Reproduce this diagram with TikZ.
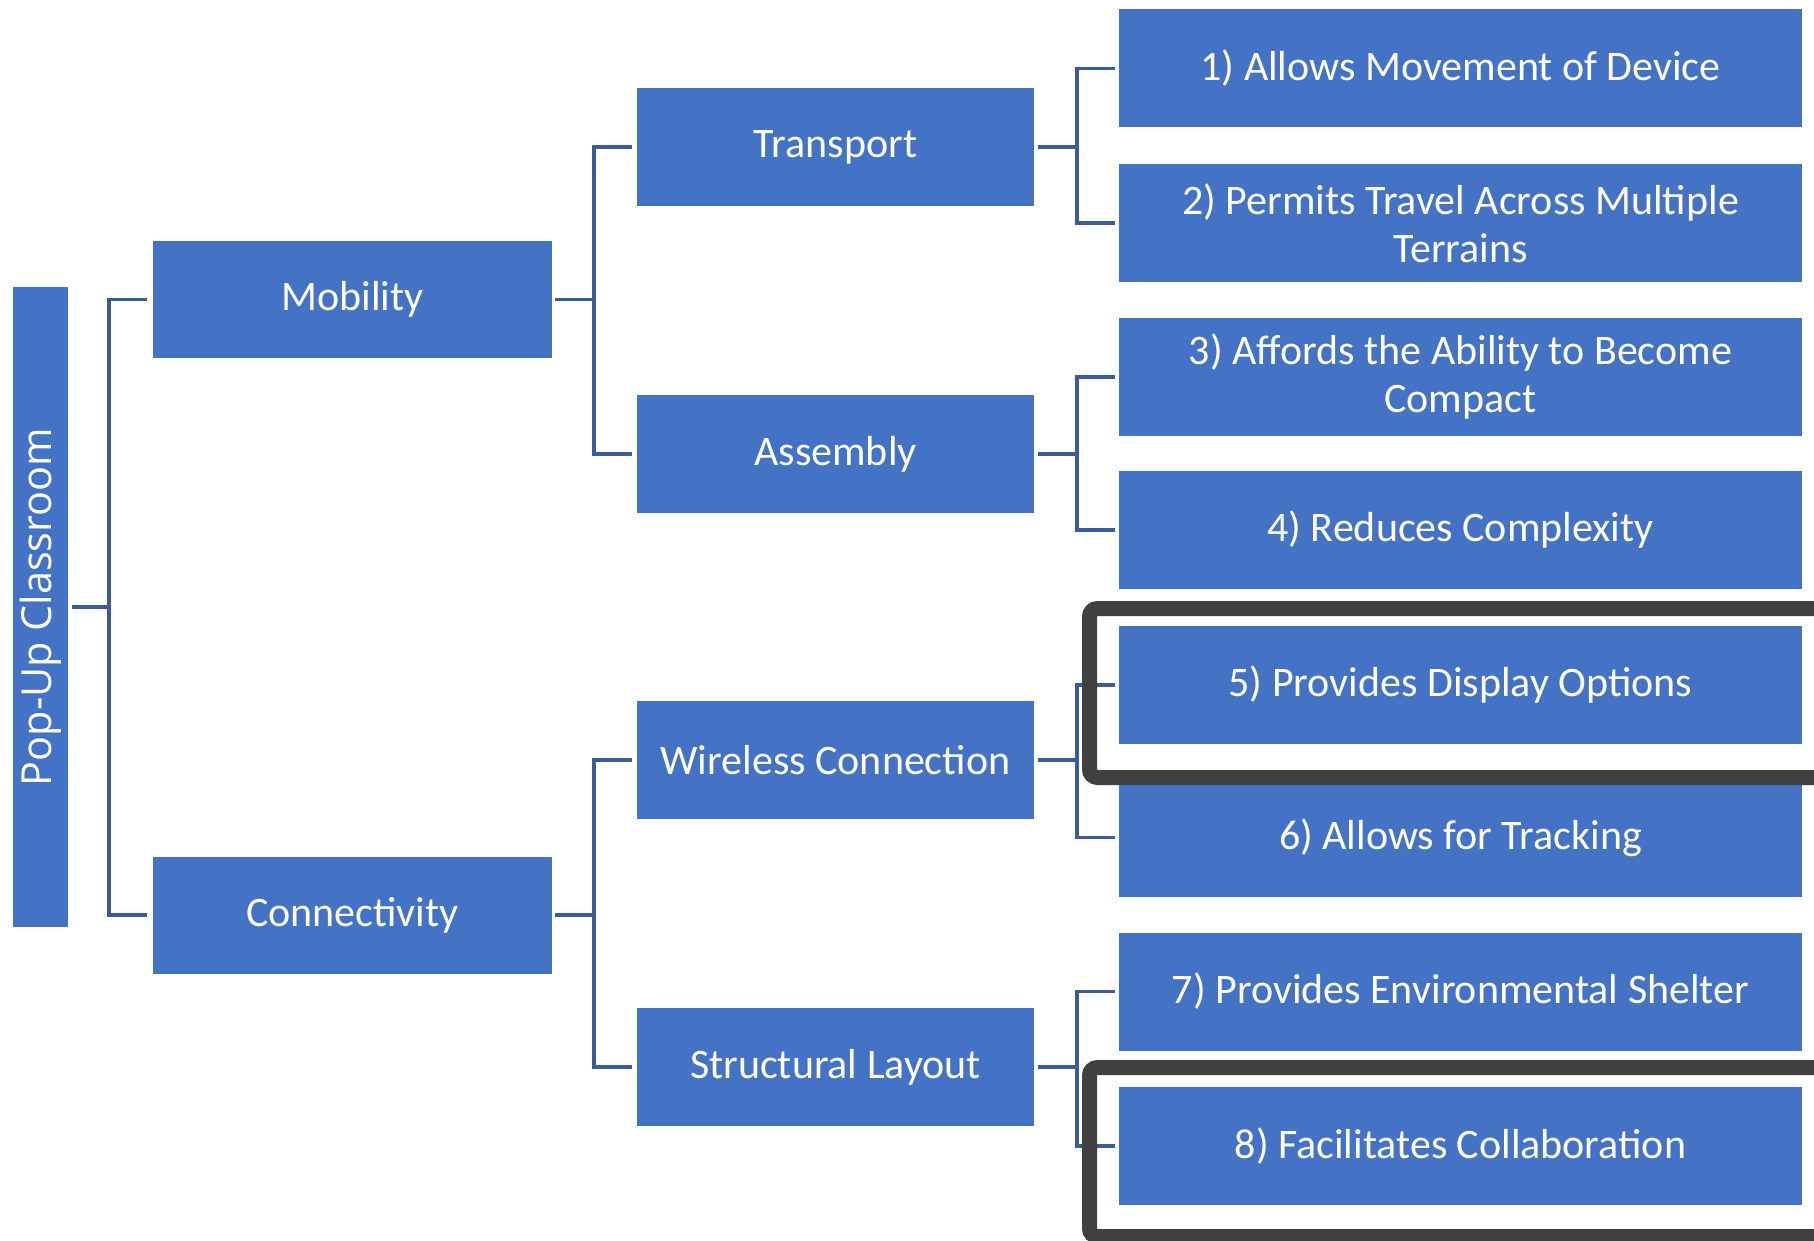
\documentclass[tikz,border=0pt]{standalone}
\usepackage{fontspec}
\setmainfont{Carlito}
\newfontfamily\rootfont{Open Sans}
\definecolor{boxblue}{HTML}{4472C4}
\definecolor{linkblue}{HTML}{3B5C99}
\definecolor{framegray}{HTML}{404040}
\tikzset{
  box/.style={fill=boxblue, draw=none, text=white, inner sep=0pt, align=center,
    font=\fontsize{21}{24}\selectfont},
  lvlone/.style={box, minimum width=199.5pt, minimum height=58.5pt},
  lvltwo/.style={box, minimum width=198.5pt, minimum height=59pt},
  leaf/.style={box, minimum width=341.5pt, minimum height=59pt},
  conn/.style={draw=linkblue, line width=1.75pt},
  hiframe/.style={draw=framegray, line width=7.5pt, rounded corners=4pt}
}
\begin{document}
\begin{tikzpicture}[x=0.5pt, y=-0.5pt]
\useasboundingbox (0,0) rectangle (1814,1241);
\clip (0,0) rectangle (1814,1241);
\fill[white] (0,0) rectangle (1814,1241);

% root
\node[box, minimum width=27.5pt, minimum height=320pt] (root) at (40.5,607) {};
\node[text=white, rotate=90, font=\rootfont\fontsize{20.7}{24}\selectfont, inner sep=0pt] (roottext) at (root.center) {Pop-Up Classroom};

% level 1
\node[lvlone] (mob) at (352.5,299.5) {Mobility};
\node[lvlone] (con) at (352.5,915) {Connectivity};

% level 2
\node[lvltwo] (tra) at (835.5,147) {Transport};
\node[lvltwo] (ass) at (835.5,454) {Assembly};
\node[lvltwo] (wir) at (835.5,760) {Wireless Connection};
\node[lvltwo] (str) at (835.5,1067) {Structural Layout};

% leaves
\node[leaf] (l1) at (1460.5,68.5) {1) Allows Movement of Device};
\node[leaf] (l2) at (1460.5,223) {2) Permits Travel Across Multiple\\Terrains};
\node[leaf] (l3) at (1460.5,377) {3) Affords the Ability to Become\\Compact};
\node[leaf] (l4) at (1460.5,530) {4) Reduces Complexity};
\node[leaf] (l5) at (1460.5,685) {5) Provides Display Options};
\node[leaf] (l6) at (1460.5,837.5) {6) Allows for Tracking};
\node[leaf] (l7) at (1460.5,991.5) {7) Provides Environmental Shelter};
\node[leaf] (l8) at (1460.5,1146) {8) Facilitates Collaboration};

% junctions
\coordinate (j0) at (109,607);
\coordinate (j1) at (594,299.5);
\coordinate (j2) at (594,915);
\coordinate (j3) at (1077,147);
\coordinate (j4) at (1077,454);
\coordinate (j5) at (1077,760);
\coordinate (j6) at (1077,1067);

% connectors
\draw[conn] ([xshift=2pt]root.east) -- (j0);
\draw[conn] ([xshift=-3pt]mob.west) -| (j0) |- ([xshift=-3pt]con.west);

\draw[conn] ([xshift=1.5pt]mob.east) -- (j1);
\draw[conn] ([xshift=-2.5pt]tra.west) -| (j1) |- ([xshift=-2.5pt]ass.west);
\draw[conn] ([xshift=1.5pt]con.east) -- (j2);
\draw[conn] ([xshift=-2.5pt]wir.west) -| (j2) |- ([xshift=-2.5pt]str.west);

\draw[conn] ([xshift=2pt]tra.east) -- (j3);
\draw[conn] ([xshift=-2pt]l1.west) -| (j3) |- ([xshift=-2pt]l2.west);
\draw[conn] ([xshift=2pt]ass.east) -- (j4);
\draw[conn] ([xshift=-2pt]l3.west) -| (j4) |- ([xshift=-2pt]l4.west);
\draw[conn] ([xshift=2pt]wir.east) -- (j5);
\draw[conn] ([xshift=-2pt]l5.west) -| (j5) |- ([xshift=-2pt]l6.west);
\draw[conn] ([xshift=2pt]str.east) -- (j6);
\draw[conn] ([xshift=-2pt]l7.west) -| (j6) |- ([xshift=-2pt]l8.west);

% highlight frames
\draw[hiframe] (1089.5,608.5) rectangle (1850,777.5);
\draw[hiframe] (1089.5,1067.5) rectangle (1850,1236.5);
\end{tikzpicture}
\end{document}
